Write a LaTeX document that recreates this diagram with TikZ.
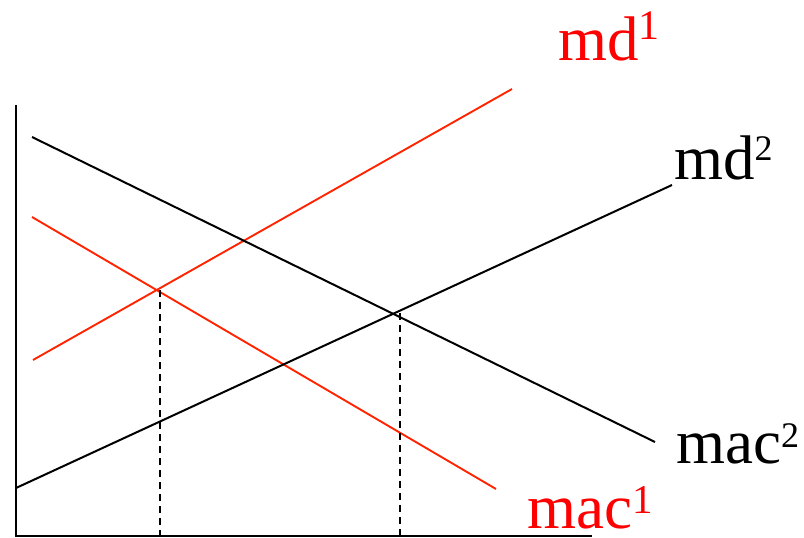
\documentclass[tikz,border=0pt]{standalone}
\usepackage{fontspec}
\setmainfont{Liberation Serif}
\usepackage{xcolor}
\definecolor{curvered}{RGB}{255,35,0}
\definecolor{labelred}{RGB}{255,0,0}
\newcommand{\curvelbl}[4]{#1\raisebox{#4}{\fontsize{#3}{#3}\selectfont #2}}

\begin{document}
\begin{tikzpicture}[x=1pt, y=-1pt, font=\fontsize{63}{70}\selectfont,
  axisline/.style={line width=2.2pt, black},
  blackcurve/.style={line width=2pt, black},
  redcurve/.style={line width=1.9pt, curvered},
  dropline/.style={line width=1.8pt, dash pattern=on 7pt off 5pt},
  curvelabel/.style={anchor=base west, inner sep=0pt}]
\useasboundingbox (0,0) rectangle (804,538);

% ---- Axes ----
\coordinate (origin) at (16,536);
\coordinate (ytop) at (16,105);
\coordinate (xend) at (592,536);
\draw[axisline] (ytop) -- (origin) -- (xend);

% ---- Red curves ----
\coordinate (md1s) at (33,360);
\coordinate (md1e) at (512,89);
\coordinate (mac1s) at (32,217);
\coordinate (mac1e) at (496,489);
\draw[redcurve] (md1s) -- (md1e);
\draw[redcurve] (mac1s) -- (mac1e);
\node[curvelabel, text=labelred] (md1lbl) at (558,60) {\curvelbl{md}{1}{42}{21pt}};
\node[curvelabel, text=labelred] (mac1lbl) at (527,528) {\curvelbl{mac}{1}{41}{15pt}};

% ---- Black curves ----
\coordinate (md2s) at (16,488);
\coordinate (md2e) at (672,185);
\coordinate (mac2s) at (32,137);
\coordinate (mac2e) at (655,442);
\draw[blackcurve] (md2s) -- (md2e);
\draw[blackcurve] (mac2s) -- (mac2e);
\node[curvelabel] (md2lbl) at (674,179) {\curvelbl{md}{2}{36}{19pt}};
\node[curvelabel] (mac2lbl) at (676,463) {\curvelbl{mac}{2}{36}{16pt}};

% ---- Drop lines from the crossings ----
\coordinate (eqone) at (160,290);
\coordinate (eqtwo) at (400,313);
\draw[dropline] (eqone) -- (eqone |- origin);
\draw[dropline] (eqtwo) -- (eqtwo |- origin);

\end{tikzpicture}
\end{document}
